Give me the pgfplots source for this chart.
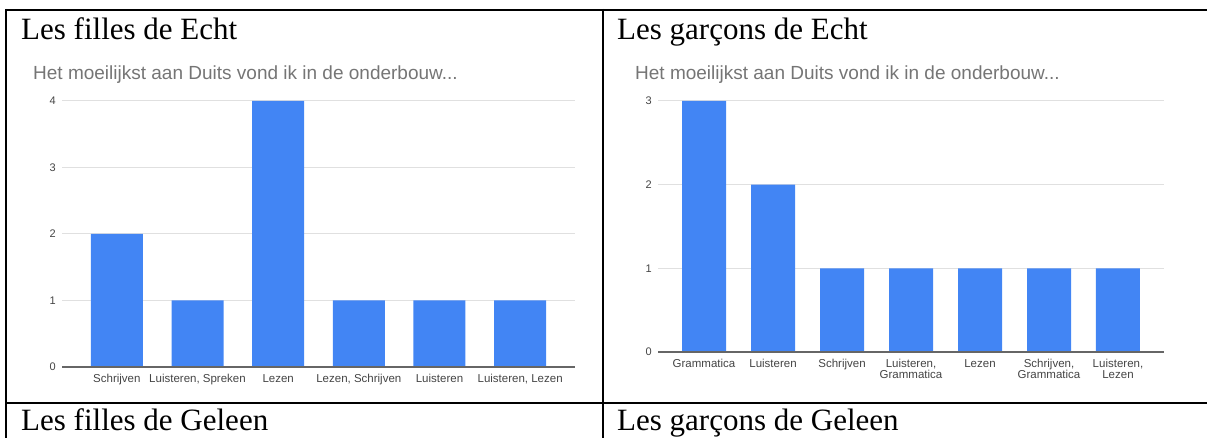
\documentclass[border=0pt]{standalone}
\usepackage{pgfplots}
\pgfplotsset{compat=1.18}
\usepackage{fontspec}
\setmainfont{Liberation Serif}
\newfontfamily\arial{Liberation Sans}
\definecolor{gbar}{HTML}{4285F4}
\definecolor{ggrid}{HTML}{E0E0E0}
\definecolor{gsub}{HTML}{757575}
\definecolor{glab}{HTML}{444444}
\definecolor{gbase}{HTML}{666666}
\pgfplotsset{gchart/.style={
  scale only axis, anchor=south west,
  ybar,
  axis line style={draw=none},
  major tick length=0pt,
  ymajorgrids, grid style={ggrid, line width=1pt},
  ymin=0,
  xtick=data,
  yticklabel style={font=\arial\fontsize{11}{11}\selectfont, text=glab, inner sep=0pt, anchor=east, xshift=-6pt},
  xticklabel style={text=glab, inner sep=0pt, anchor=north, yshift=-7pt, align=center},
  /pgf/number format/assume math mode=true,
  clip=false,
}}
\begin{document}
\begin{tikzpicture}
\useasboundingbox (0,0) rectangle (1207pt,438pt);
% table borders
\draw[line width=2pt] (5pt,428pt) -- (1207pt,428pt);
\draw[line width=2pt] (6pt,429pt) -- (6pt,0pt);
\draw[line width=2pt] (603pt,429pt) -- (603pt,0pt);
\draw[line width=2pt] (5pt,35pt) -- (1207pt,35pt);
% titles
\node[anchor=base west, inner sep=0pt, font=\fontsize{31}{31}\selectfont] at (21pt,398pt) {Les filles de Echt};
\node[anchor=base west, inner sep=0pt, font=\fontsize{31}{31}\selectfont] at (617pt,398pt) {Les garçons de Echt};
\node[anchor=base west, inner sep=0pt, font=\fontsize{31}{31}\selectfont] at (21pt,7pt) {Les filles de Geleen};
\node[anchor=base west, inner sep=0pt, font=\fontsize{31}{31}\selectfont] at (617pt,7pt) {Les garçons de Geleen};
% subtitles
\node[anchor=base west, inner sep=0pt, text=gsub, font=\arial\fontsize{19}{19}\selectfont] at (33pt,358pt) {Het moeilijkst aan Duits vond ik in de onderbouw...};
\node[anchor=base west, inner sep=0pt, text=gsub, font=\arial\fontsize{19}{19}\selectfont] at (635pt,358pt) {Het moeilijkst aan Duits vond ik in de onderbouw...};
% left chart
\begin{axis}[gchart,
  at={(62pt,71pt)}, width=513pt, height=266pt,
  bar width=52pt,
  xmin=-0.68, xmax=5.68, ymax=4, ytick={0,1,2,3,4},
  xticklabels={Schrijven, {Luisteren, Spreken}, Lezen, {Lezen, Schrijven}, Luisteren, {Luisteren, Lezen}},
  xticklabel style={font=\arial\fontsize{11.5}{11.5}\selectfont},
]
\addplot[fill=gbar, draw=none] coordinates {(0,2) (1,1) (2,4) (3,1) (4,1) (5,1)};
\draw[gbase, line width=1.3pt] (rel axis cs:0,0) -- (rel axis cs:1,0);
\end{axis}
% right chart
\begin{axis}[gchart,
  at={(658pt,86pt)}, width=506pt, height=251pt,
  bar width=44pt,
  xmin=-0.667, xmax=6.667, ymax=3, ytick={0,1,2,3},
  xticklabels={Grammatica, Luisteren, Schrijven, {Luisteren,\\Grammatica}, Lezen, {Schrijven,\\Grammatica}, {Luisteren,\\Lezen}},
  xticklabel style={font=\arial\fontsize{11.5}{11}\selectfont},
]
\addplot[fill=gbar, draw=none] coordinates {(0,3) (1,2) (2,1) (3,1) (4,1) (5,1) (6,1)};
\draw[gbase, line width=1.3pt] (rel axis cs:0,0) -- (rel axis cs:1,0);
\end{axis}
\end{tikzpicture}
\end{document}
